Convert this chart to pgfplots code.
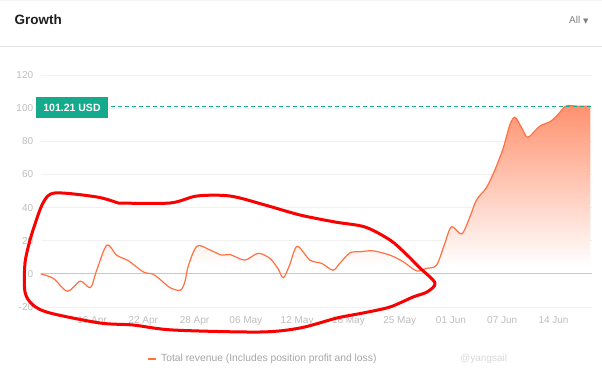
\documentclass[border=0pt]{standalone}
\usepackage{pgfplots}
\pgfplotsset{compat=1.18}
\usepackage{fontspec}
\setmainfont{Liberation Sans}
\newfontfamily\dejavu{DejaVu Sans}
\definecolor{lineor}{RGB}{255,112,67}
\definecolor{fillor}{RGB}{255,145,110}
\definecolor{teal2}{RGB}{22,170,140}
\definecolor{tickgray}{RGB}{190,190,190}
\definecolor{gridgray}{RGB}{241,241,241}
\definecolor{zerogray}{RGB}{200,200,200}
\definecolor{annred}{RGB}{250,0,0}
\pgfdeclareverticalshading{revshade}{100bp}{color(0bp)=(white); color(32bp)=(white); color(75bp)=(fillor); color(100bp)=(fillor)}
\pgfplotstableread{
x y
0.00 0
0.25 -2.8
0.52 -10.5
0.77 -4.4
0.97 -8.3
1.09 2
1.29 17.4
1.48 11.3
1.71 7.9
2.00 1.2
2.19 -0.2
2.33 -3.4
2.52 -8.3
2.72 -9.9
2.81 -5
2.88 5
3.05 16.8
3.30 14.4
3.53 11.3
3.69 11.7
3.98 8.3
4.24 12.4
4.47 9.3
4.63 3
4.73 -2.4
4.85 5
5.00 16.6
5.25 8.3
5.48 6.3
5.70 2.2
5.83 6.3
6.03 12.7
6.22 13.3
6.48 13.9
6.81 11.3
7.07 7.3
7.33 1.8
7.52 3.3
7.72 5.3
7.88 18.4
8.01 28.5
8.21 24.1
8.37 34.5
8.50 44.7
8.69 52
8.86 63
9.02 76
9.15 90.1
9.25 94.5
9.38 88.1
9.50 82.4
9.73 89.1
9.93 91.8
10.06 95.2
10.24 101.21
10.45 101.21
10.72 101.21
}\revdata
\begin{document}
\begin{tikzpicture}[x=1pt,y=1pt]
\fill[white] (0,0) rectangle (602,388);
\useasboundingbox (0,0) rectangle (602,388);
\node[anchor=west, font=\bfseries\fontsize{13.5}{16}\selectfont, text={rgb,255:red,30;green,30;blue,30}] at (11,368) {Growth};
\node[anchor=east, font=\fontsize{10}{12}\selectfont, text=gray] at (592,368) {All {\dejavu\fontsize{7}{8}\selectfont ▼}};
\draw[gray!20] (0,342) -- (602,342);
\draw[gray!8] (0,387.5) -- (602,387.5);
\begin{axis}[
  at={(40.7pt,81pt)}, anchor=south west,
  scale only axis, width=551.3pt, height=232pt,
  xmin=0, xmax=10.75, ymin=-20, ymax=120,
  axis line style={draw=none}, major tick length=0pt,
  ytick={-20,0,...,120}, ymajorgrids, grid style={gridgray, line width=0.8pt},
  xtick={1,...,10},
  xticklabels={16 Apr,22 Apr,28 Apr,06 May,12 May,18 May,25 May,01 Jun,07 Jun,14 Jun},
  tick label style={font=\fontsize{10}{12}\selectfont, text=tickgray},
  /pgf/number format/assume math mode=true,
  yticklabel style={xshift=-4pt},
  xticklabel style={yshift=-6pt},
]
\addplot[draw=none, shading=revshade, smooth, tension=0.5] table[x=x,y=y] {\revdata} \closedcycle;
\addplot[zerogray, line width=0.8pt] coordinates {(0,0) (10.75,0)};
\addplot[lineor, line width=1.2pt, smooth, tension=0.5] table[x=x,y=y] {\revdata};
\addplot[teal2, dash pattern=on 4pt off 3pt, line width=0.9pt] coordinates {(0,101.21) (10.75,101.21)};
\end{axis}
\node[fill=teal2, text=white, font=\bfseries\fontsize{10.5}{12}\selectfont, minimum width=72pt, minimum height=21.5pt, inner sep=0pt] at (72,280.5) {101.21 USD};
\draw[lineor, line width=2pt] (148,29) -- (156,29);
\node[anchor=west, text=gray!70, font=\fontsize{10.3}{12}\selectfont, inner sep=0pt] at (161,29) {Total revenue (Includes position profit and loss)};
\node[anchor=west, text=gray!30, font=\fontsize{10}{12}\selectfont, inner sep=0pt] at (460,29) {@yangsail};
\draw[annred, line width=3pt, line cap=round, line join=round] plot[smooth, tension=0.5] coordinates {
(118,185) (97,191) (55,195) (43,185) (33,158) (30,148) (25,125) (25,96) (33,83) (50,75) (100,65) (133,63) (173,58) (260,56) (300,60) (337,70) (363,75) (390,81) (413,91) (427,96) (435,105) (420,120) (405,135) (390,148) (365,161) (335,166) (300,173) (265,183) (230,192) (197,192) (170,185) (118,185)};
\end{tikzpicture}
\end{document}
